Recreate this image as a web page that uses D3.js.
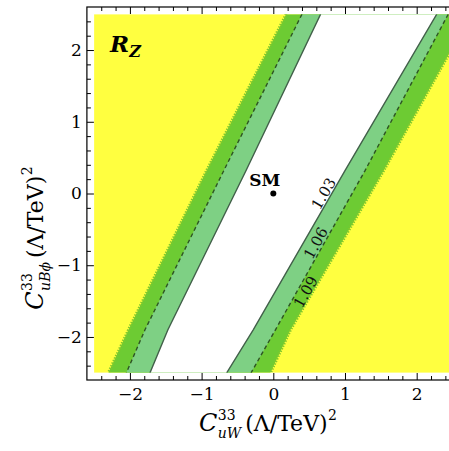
<!DOCTYPE html>
<html><head><meta charset="utf-8">
<script src="https://cdn.jsdelivr.net/npm/d3@7"></script>
<style>body{margin:0;background:#fff}svg{display:block}</style>
</head><body>
<svg id="chart" width="449" height="451"></svg>
<script>
// Axis ticks
const xTicks = [-2, -1, 0, 1, 2];
const yTicks = [-2, -1, 0, 1, 2];
const minorTicks = [-2.4, -2.2, -1.8, -1.6, -1.4, -1.2, -0.8, -0.6, -0.4, -0.2,
                    0.2, 0.4, 0.6, 0.8, 1.2, 1.4, 1.6, 1.8, 2.2, 2.4];

// Contour levels of R_Z and the two branches of each contour, [C_uW, C_uBphi]
const levels = ["1.03", "1.06", "1.09"];
const left103  = [[0.66, 2.5], [-0.38, 0.32], [-1.47, -1.90], [-1.72, -2.5]];
const left106  = [[0.40, 2.5], [-0.69, 0.32], [-1.79, -1.90], [-2.05, -2.5]];
const left109  = [[0.18, 2.5], [-0.93, 0.32], [-2.02, -1.90], [-2.30, -2.5]];
const right103 = [[2.28, 2.5], [1.00, 0.32], [-0.28, -1.90], [-0.65, -2.5]];
const right106 = [[2.44, 2.5], [1.28, 0.32], [0.03, -1.90], [-0.31, -2.5]];
const right109 = [[2.76, 2.5], [1.54, 0.32], [0.24, -1.90], [-0.04, -2.5]];

// Contour label anchors
const labelPos = [[0.70, 0.0], [0.59, -0.69], [0.45, -1.37]];
// Standard Model point
const smPoint = [0, 0];

const svg = d3.select("#chart");
const serif = "'DejaVu Serif','Liberation Serif',serif";

const x = d3.scaleLinear().domain([-2.6, 2.6]).range([86.9, 459.7]);
const y = d3.scaleLinear().domain([-2.6, 2.6]).range([380, 7]);

const px0 = x(-2.5), px1 = x(2.5), py0 = y(2.5), py1 = y(-2.5);

svg.append("clipPath").attr("id", "plotClip")
  .append("rect").attr("x", px0).attr("y", py0)
  .attr("width", px1 - px0).attr("height", py1 - py0);

const plot = svg.append("g").attr("clip-path", "url(#plotClip)");

const line = d3.line().x(d => x(d[0])).y(d => y(d[1]));
const band = (L, R) => line(L.concat(R.slice().reverse())) + "Z";

// R_Z > 1.09 everywhere outside the bands
plot.append("rect").attr("x", px0).attr("y", py0)
  .attr("width", px1 - px0).attr("height", py1 - py0).attr("fill", "#FFFF40");
plot.append("path").attr("d", band(left109, right109)).attr("fill", "#6DCB33");
plot.append("path").attr("d", band(left106, right106)).attr("fill", "#7ED084");
plot.append("path").attr("d", band(left103, right103)).attr("fill", "#ffffff");

// jagged edge of the 1.09 region
[left109, right109].forEach(L => {
  plot.append("path").attr("d", line(L)).attr("fill", "none")
    .attr("stroke", "#80C92C").attr("stroke-width", 3)
    .attr("stroke-dasharray", "1.4 1.4");
});
// 1.06 contour (dashed)
[left106, right106].forEach(L => {
  plot.append("path").attr("d", line(L)).attr("fill", "none")
    .attr("stroke", "#2E5424").attr("stroke-width", 1.4)
    .attr("stroke-dasharray", "4 3");
});
// 1.03 contour (solid)
[left103, right103].forEach(L => {
  plot.append("path").attr("d", line(L)).attr("fill", "none")
    .attr("stroke", "#42604A").attr("stroke-width", 1.4);
});

// contour labels, rotated along the right branch
const rightLines = [right103, right106, right109];
levels.forEach((lv, i) => {
  const L = rightLines[i];
  const a = L[0], b = L[L.length - 1];
  const ang = Math.atan2(y(a[1]) - y(b[1]), x(a[0]) - x(b[0])) * 180 / Math.PI;
  const p = labelPos[i];
  svg.append("text")
    .attr("transform", `translate(${x(p[0])},${y(p[1])}) rotate(${ang})`)
    .attr("text-anchor", "middle").attr("dy", "0.36em")
    .attr("font-family", serif).attr("font-size", 15).attr("fill", "#111")
    .text(lv);
});

// SM point
svg.append("circle").attr("cx", x(smPoint[0])).attr("cy", y(smPoint[1]))
  .attr("r", 3).attr("fill", "#000");
svg.append("text").attr("x", x(smPoint[0]) - 8.5).attr("y", y(smPoint[1]) - 8)
  .attr("text-anchor", "middle").attr("font-family", serif)
  .attr("font-weight", "bold").attr("font-size", 17).text("SM");

// R_Z tag
const tag = svg.append("text").attr("x", 110).attr("y", 52)
  .attr("font-family", serif).attr("font-weight", "bold").attr("font-style", "italic");
tag.append("tspan").attr("font-size", 23).text("R");
tag.append("tspan").attr("font-size", 16).attr("dy", 5).text("Z");

// frame
svg.append("rect").attr("x", x(-2.6)).attr("y", y(2.6))
  .attr("width", x(2.6) - x(-2.6)).attr("height", y(-2.6) - y(2.6))
  .attr("fill", "none").attr("stroke", "#000").attr("stroke-width", 1.2);

function styleAxis(g) {
  g.select(".domain").remove();
  g.selectAll("line").attr("stroke", "#000");
  g.selectAll("text").attr("font-family", serif).attr("font-size", 17).attr("fill", "#000");
  g.attr("font-family", null);
}

// bottom
svg.append("g").attr("transform", `translate(0,${y(-2.6)})`)
  .call(d3.axisBottom(x).tickValues(xTicks).tickSize(-7).tickPadding(8).tickFormat(d3.format("d")))
  .call(styleAxis);
svg.append("g").attr("transform", `translate(0,${y(-2.6)})`)
  .call(d3.axisBottom(x).tickValues(minorTicks).tickSize(-4).tickFormat(""))
  .call(styleAxis);
// top
svg.append("g").attr("transform", `translate(0,${y(2.6)})`)
  .call(d3.axisTop(x).tickValues(xTicks).tickSize(-7).tickFormat(""))
  .call(styleAxis);
svg.append("g").attr("transform", `translate(0,${y(2.6)})`)
  .call(d3.axisTop(x).tickValues(minorTicks).tickSize(-4).tickFormat(""))
  .call(styleAxis);
// left
svg.append("g").attr("transform", `translate(${x(-2.6)},0)`)
  .call(d3.axisLeft(y).tickValues(yTicks).tickSize(-7).tickPadding(5).tickFormat(d3.format("d")))
  .call(styleAxis);
svg.append("g").attr("transform", `translate(${x(-2.6)},0)`)
  .call(d3.axisLeft(y).tickValues(minorTicks).tickSize(-4).tickFormat(""))
  .call(styleAxis);

// axis titles: C^{33}_{sub} (Λ/TeV)^2 with stacked super/subscript
function axisTitle(g, sub) {
  let cx = 0;
  const add = (txt, size, dy, italic) => g.append("text").attr("x", cx).attr("y", dy)
      .attr("font-family", serif).attr("font-size", size)
      .attr("font-style", italic ? "italic" : "normal").text(txt);
  const c = add("C", 24, 0, true); cx += c.node().getComputedTextLength() + 0.5;
  const s1 = add("33", 14, -11, false);
  const s2 = add(sub, 14, 7, true);
  cx += Math.max(s1.node().getComputedTextLength(), s2.node().getComputedTextLength()) + 4;
  const m = add("(Λ/TeV)", 22, 0, false); cx += m.node().getComputedTextLength() + 0.5;
  const e = add("2", 14, -11, false); cx += e.node().getComputedTextLength();
  return cx;
}
const xt = svg.append("g");
const wx = axisTitle(xt, "uW");
xt.attr("transform", `translate(${268 - wx / 2},431)`);

const yt = svg.append("g");
const wy = axisTitle(yt, "uBϕ");
yt.attr("transform", `translate(43,${238 + wy / 2}) rotate(-90)`);
</script>
</body></html>
